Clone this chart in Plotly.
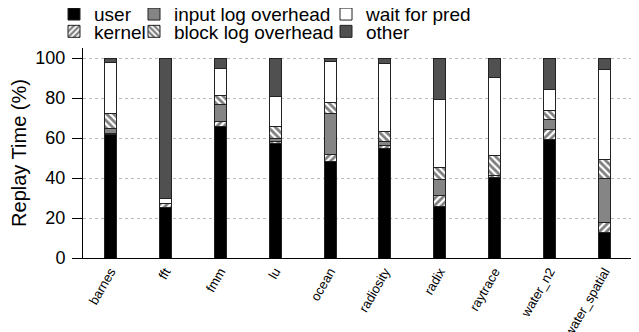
import plotly.graph_objects as go

categories = ["barnes", "fft", "fmm", "lu", "ocean", "radiosity", "radix",
              "raytrace", "water_n2", "water_spatial"]
user = [62, 25.5, 66, 57.5, 48.3, 54.7, 25.8, 40.3, 59.5, 12.8]
kernel = [0.5, 2, 2.3, 1, 3.7, 1.6, 5.5, 1.2, 4.7, 5]
input_log = [2.5, 0, 8.3, 1.5, 20.5, 2, 8.2, 0, 5.3, 22.2]
block_log = [7.5, 0, 4.7, 6, 5.3, 5, 6, 10, 4.3, 9.2]
wait_pred = [25.5, 2.5, 13.7, 15, 20.5, 34.2, 34, 38.8, 10.4, 45]
other = [2, 70, 5, 19, 1.7, 2.5, 20.5, 9.7, 15.8, 5.8]
y_ticks = [0, 20, 40, 60, 80, 100]

# page body has an 8px default margin; size/margins compensate for it
OFF = 8
W, H = 631, 324
L, R, T, B = 75, 7, 40, 74
pw, ph = W - L - R, H - T - B

def px2x(screen_px):
    return (screen_px - OFF - L) / pw

def py2y(screen_py):
    return (H - B - (screen_py - OFF)) / ph

hatch = dict(fgcolor="black", bgcolor="white", size=5, solidity=0.55)
series = [
    ("user", user, dict(color="black"), "legend", 74, 14.2),
    ("kernel", kernel, dict(color="white", pattern=dict(shape="/", **hatch)), "legend2", 74, 31.5),
    ("input log overhead", input_log, dict(color="#858585"), "legend3", 154, 14.2),
    ("block log overhead", block_log, dict(color="white", pattern=dict(shape="\\", **hatch)), "legend4", 154, 31.5),
    ("wait for pred", wait_pred, dict(color="white"), "legend5", 346, 14.2),
    ("other", other, dict(color="#505050"), "legend6", 346, 31.5),
]

fig = go.Figure()
layout_legends = {}
for name, vals, mk, lg, cx, cy in series:
    mk = dict(mk)
    mk["line"] = dict(color="#222222", width=1)
    fig.add_trace(go.Bar(x=categories, y=vals, name=name, marker=mk,
                         width=0.22, legend=lg))
    layout_legends[lg] = dict(
        x=px2x(cx - 20), y=py2y(cy), xanchor="left", yanchor="middle",
        xref="paper", yref="paper", bgcolor="rgba(0,0,0,0)", borderwidth=0,
        font=dict(family="Liberation Sans, Arial, sans-serif", size=19, color="black"),
    )

fig.update_layout(
    width=W, height=H,
    margin=dict(l=L, r=R, t=T, b=B, pad=0, autoexpand=False),
    barmode="stack",
    plot_bgcolor="white", paper_bgcolor="white",
    font=dict(family="Liberation Sans, Arial, sans-serif", color="black"),
    showlegend=True,
    **layout_legends,
)
fig.update_xaxes(
    range=[-0.5, 9.5], showline=True, linecolor="black", linewidth=1,
    ticks="", tickangle=-60, tickfont=dict(size=13), showgrid=False,
)
fig.update_yaxes(
    range=[0, 105], tickvals=y_ticks, showline=True, linecolor="black", linewidth=1,
    ticks="outside", ticklen=10, tickcolor="black", tickfont=dict(size=18),
    ticklabelstandoff=3,
    showgrid=True, gridcolor="#bbbbbb", griddash="dot", gridwidth=1,
    title=dict(text="Replay Time (%)", font=dict(size=20), standoff=6),
    zeroline=False,
)
fig.write_html("out.html")
